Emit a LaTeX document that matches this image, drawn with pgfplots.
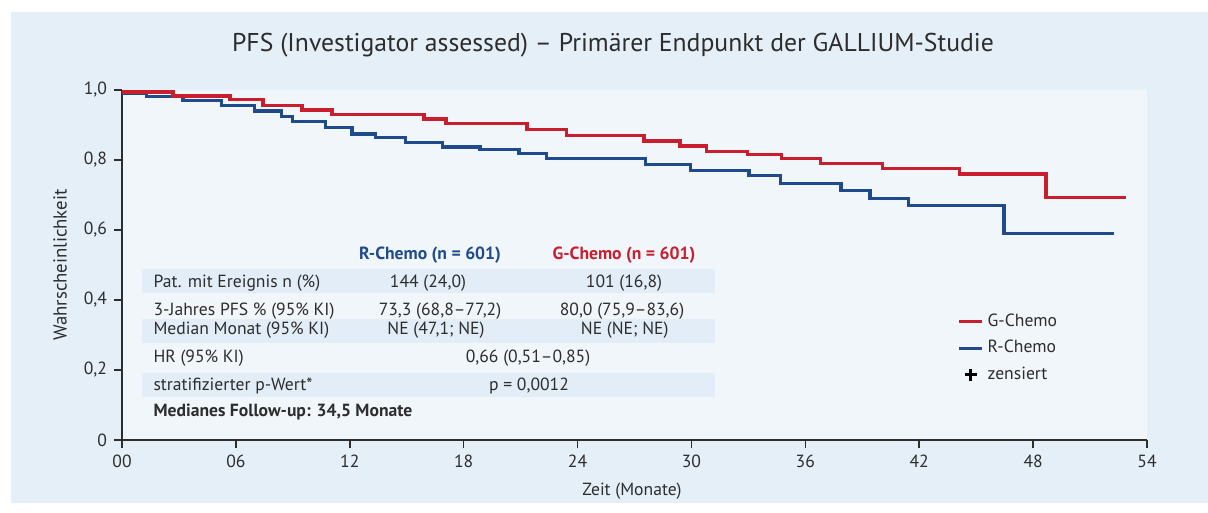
\documentclass[border=0pt]{standalone}
\usepackage{fontspec}
\setmainfont{PT Sans}
\usepackage{pgfplots}
\pgfplotsset{compat=1.18}
\definecolor{panel}{RGB}{228,239,248}
\definecolor{inner}{RGB}{240,246,250}
\definecolor{stripe}{RGB}{226,237,247}
\definecolor{gred}{RGB}{200,30,45}
\definecolor{rblue}{RGB}{31,75,140}
\definecolor{txt}{RGB}{45,45,45}
\newcommand\PX[2]{({((#1)-122)*0.5pt},{(440-(#2))*0.5pt})}
\newcommand\tbl{\fontsize{8.8}{10.5}\selectfont}
\begin{document}
\begin{tikzpicture}
\path[use as bounding box] \PX{0}{513} rectangle \PX{1208}{0};
\fill[white] \PX{0}{513} rectangle \PX{1208}{0};
\fill[panel] \PX{11}{503} rectangle \PX{1208}{12};
\begin{axis}[
  at={(0,0)}, anchor=south west,
  width=512.5pt, height=175pt, scale only axis,
  xmin=0, xmax=54, ymin=0, ymax=1,
  axis x line*=bottom, axis y line*=left,
  axis line style={txt, line width=1pt},
  axis background/.style={fill=inner},
  tick align=outside, major tick length=4pt,
  tick style={txt, line width=0.8pt},
  xtick={0,6,...,54},
  xticklabels={00,06,12,18,24,30,36,42,48,54},
  ytick={0,0.2,0.4,0.6,0.8,1.0},
  yticklabels={0,{0,2},{0,4},{0,6},{0,8},{1,0}},
  ticklabel style={font=\fontsize{8.8}{10.5}\selectfont, text=txt},
  legend image code/.code={\draw[mark repeat=2,mark phase=2,#1] plot coordinates {(0pt,0pt) (5.75pt,0pt) (11.5pt,0pt)};},
  legend style={at={(axis cs:43.68,0.385)}, anchor=north west, draw=none, fill=none,
    font=\fontsize{8.8}{10.5}\selectfont, text=txt, row sep=1.6pt},
  legend cell align=left,
]
\addplot[const plot, rblue, line width=1.6pt, forget plot] coordinates {
(0,0.990)(1.30,0.981)(3.21,0.969)(5.25,0.956)(7.00,0.940)(8.41,0.924)(8.99,0.909)
(10.70,0.893)(12.12,0.874)(13.37,0.864)(14.93,0.849)(16.90,0.837)(18.86,0.830)
(20.92,0.819)(22.38,0.804)(27.56,0.788)(29.93,0.770)(33.03,0.756)(34.71,0.733)
(37.88,0.712)(39.41,0.689)(41.43,0.670)(46.47,0.589)(52.27,0.589)};
\addplot[const plot, gred, line width=1.6pt, forget plot] coordinates {
(0,0.994)(2.69,0.983)(5.69,0.972)(7.43,0.956)(9.48,0.943)(11.06,0.930)(15.91,0.917)
(17.07,0.904)(21.34,0.888)(23.43,0.870)(27.50,0.854)(29.40,0.840)(30.81,0.824)
(32.95,0.815)(34.76,0.804)(36.81,0.790)(40.08,0.775)(44.11,0.760)(48.68,0.692)
(52.88,0.692)};
\addlegendimage{gred, line width=1.6pt}
\addlegendentry{G-Chemo}
\addlegendimage{rblue, line width=1.6pt}
\addlegendentry{R-Chemo}
\addlegendimage{only marks, mark=+, mark size=3pt, line width=1.5pt, black}
\addlegendentry{zensiert}
\end{axis}
% title and axis labels
\node[font=\fontsize{12.85}{15}\selectfont, text=txt] at \PX{613}{45} {PFS (Investigator assessed) – Primärer Endpunkt der GALLIUM-Studie};
\node[font=\fontsize{9.4}{11}\selectfont, text=txt, rotate=90] at \PX{60}{265} {Wahrscheinlichkeit};
\node[font=\tbl, text=txt] at \PX{632}{491} {Zeit (Monate)};
% table
\fill[stripe] \PX{142}{293.3} rectangle \PX{715}{269.3};
\fill[stripe] \PX{142}{342.7} rectangle \PX{715}{319};
\fill[stripe] \PX{142}{396.7} rectangle \PX{715}{373.3};
\node[font=\tbl\bfseries, text=rblue] at \PX{430}{255} {R-Chemo (n = 601)};
\node[font=\tbl\bfseries, text=gred] at \PX{624}{255} {G-Chemo (n = 601)};
\node[font=\tbl, text=txt, anchor=west] at \PX{146.5}{282.7} {Pat. mit Ereignis n (\%)};
\node[font=\tbl, text=txt, anchor=west] at \PX{146.5}{310.7} {3-Jahres PFS \% (95\% KI)};
\node[font=\tbl, text=txt, anchor=west] at \PX{146.5}{330} {Median Monat (95\% KI)};
\node[font=\tbl, text=txt, anchor=west] at \PX{146.5}{358.3} {HR (95\% KI)};
\node[font=\tbl, text=txt, anchor=west] at \PX{146.5}{385.7} {stratifizierter p-Wert*};
\node[font=\tbl\bfseries, text=txt, anchor=west] at \PX{146.5}{412.3} {Medianes Follow-up: 34,5 Monate};
\node[font=\tbl, text=txt] at \PX{428}{282.7} {144 (24,0)};
\node[font=\tbl, text=txt] at \PX{440}{310.7} {73,3 (68,8–77,2)};
\node[font=\tbl, text=txt] at \PX{436}{330} {NE (47,1; NE)};
\node[font=\tbl, text=txt] at \PX{624}{282.7} {101 (16,8)};
\node[font=\tbl, text=txt] at \PX{622}{310.7} {80,0 (75,9–83,6)};
\node[font=\tbl, text=txt] at \PX{624.7}{330} {NE (NE; NE)};
\node[font=\tbl, text=txt] at \PX{528}{358.3} {0,66 (0,51–0,85)};
\node[font=\tbl, text=txt] at \PX{529}{385.7} {p = 0,0012};
\end{tikzpicture}
\end{document}
